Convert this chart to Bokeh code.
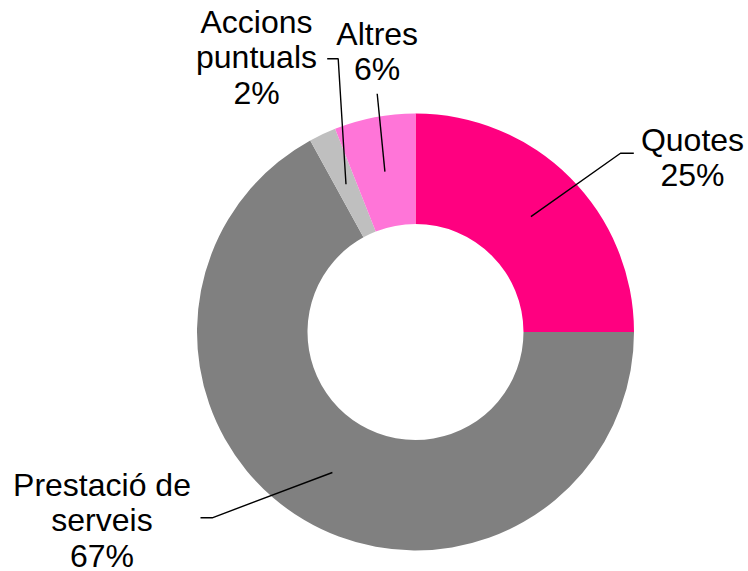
import math
from bokeh.plotting import figure
from bokeh.models import Range1d, ColumnDataSource
from bokeh.core.properties import value
from bokeh.embed import file_html
from bokeh.resources import INLINE

# ---- data ----
categories = ["Quotes", "Prestació de\nserveis", "Accions\npuntuals", "Altres"]
shares = [25, 67, 2, 6]
colors = ["#FF0080", "#808080", "#BFBFBF", "#FF75D8"]

# ---- layout (screen pixels of the picture) ----
W, H = 748, 571
CX, CY = 415, 331.5          # donut centre on the page
R_OUT, R_IN = 218.5, 108
FONT_PX = 32
LINE_GAP = 35.5
BASE_SHIFT = -12             # renderer baseline correction

# label block: centre x, first baseline y; leader line elbow points (after the start point)
label_anchor = {
    "Quotes": (692, 151),
    "Prestació de\nserveis": (101.5, 496),
    "Accions\npuntuals": (256, 33.3),
    "Altres": (376.7, 45),
}
leader_elbows = {
    "Quotes": [(620, 152.7), (633.3, 152.7)],
    "Prestació de\nserveis": [(211.7, 517.3), (200, 517.3)],
    "Accions\npuntuals": [(337.7, 58.3), (326.7, 58.3)],
    "Altres": [(376.7, 93.3)],
}

def dx(sx):
    return sx - CX

def dy(sy):
    return CY - sy

p = figure(width=W, height=H, output_backend="svg", toolbar_location=None,
           x_range=Range1d(dx(0), dx(W)), y_range=Range1d(dy(H), dy(0)),
           min_border=0)
p.axis.visible = False
p.grid.visible = False
p.outline_line_color = None
p.background_fill_color = "white"

total = float(sum(shares))
starts, ends, mids = [], [], []
acc = 0.0
for s in shares:
    a0 = math.pi / 2 - 2 * math.pi * acc / total
    a1 = math.pi / 2 - 2 * math.pi * (acc + s) / total
    starts.append(a1)
    ends.append(a0)
    mids.append((a0 + a1) / 2)
    acc += s

src = ColumnDataSource(dict(start=starts, end=ends, color=colors, cat=categories))
p.annular_wedge(x=0, y=0, inner_radius=R_IN, outer_radius=R_OUT,
                start_angle="start", end_angle="end", fill_color="color",
                line_color=None, source=src)

r_mid = (R_IN + R_OUT) / 2
for cat, s, m in zip(categories, shares, mids):
    xs = [r_mid * math.cos(m)] + [dx(px) for px, _ in leader_elbows[cat]]
    ys = [r_mid * math.sin(m)] + [dy(py) for _, py in leader_elbows[cat]]
    p.line(xs, ys, line_color="black", line_width=1.4)

    lines = cat.split("\n") + [f"{s}%"]
    ax, ay = label_anchor[cat]
    p.text(x=[dx(ax)] * len(lines),
           y=[dy(ay + BASE_SHIFT + i * LINE_GAP) for i in range(len(lines))],
           text=lines, text_align="center", text_baseline="alphabetic",
           text_font=value("Liberation Sans"), text_font_size=f"{FONT_PX}px",
           text_color="black")

open("out.html", "w").write(file_html(p, INLINE))
